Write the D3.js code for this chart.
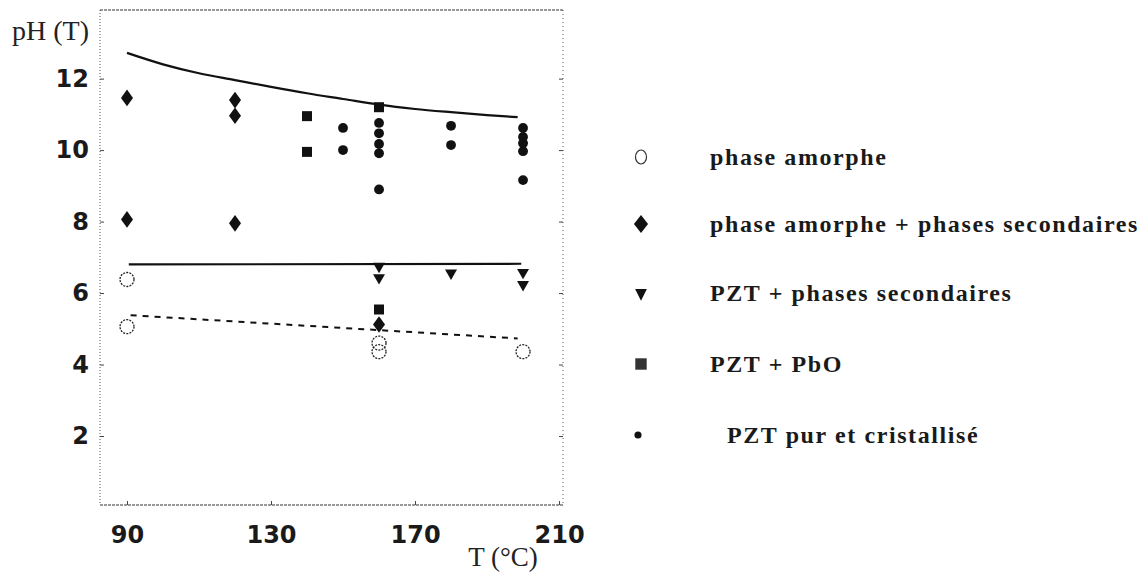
<!DOCTYPE html>
<html>
<head>
<meta charset="utf-8">
<script src="https://cdn.jsdelivr.net/npm/d3@7/dist/d3.min.js"></script>
<style>
  html, body { margin: 0; padding: 0; background: #fff; }
  svg { display: block; }
</style>
</head>
<body>
<svg id="chart" width="1147" height="587"></svg>
<script>
// ---------- data ----------
const xTicks = [90, 130, 170, 210];
const yTicks = [2, 4, 6, 8, 10, 12];

// upper limit curve
const upperT  = [90, 100, 110, 120, 130, 140, 150, 160, 170, 180, 190, 198.5];
const upperPH = [12.72, 12.40, 12.15, 11.96, 11.77, 11.59, 11.43, 11.27, 11.15, 11.06, 10.98, 10.92];
// middle solid line
const midT  = [90.5, 199.5];
const midPH = [6.80, 6.82];
// lower dashed line
const dashT  = [91, 198.5];
const dashPH = [5.38, 4.73];

// points per category: [T, pH]
const amorphe    = [[90, 6.38], [90, 5.06], [160, 4.60], [160, 4.36], [200, 4.36]];
const amorpheSec = [[90, 11.46], [90, 8.06], [120, 11.40], [120, 10.96], [120, 7.95], [160, 5.12]];
const pztSec     = [[160, 6.75], [160, 6.43], [180, 6.56], [200, 6.58], [200, 6.24]];
const pztPbO     = [[140, 10.95], [140, 9.95], [160, 11.20], [160, 5.54]];
const pztPur     = [[150, 10.62], [150, 10.00], [160, 10.76], [160, 10.47], [160, 10.17], [160, 9.91], [160, 8.90],
                    [180, 10.68], [180, 10.14], [200, 10.62], [200, 10.37], [200, 10.19], [200, 9.97], [200, 9.16]];

const legendLabels = ["phase amorphe", "phase amorphe + phases secondaires", "PZT + phases secondaires", "PZT + PbO", "PZT pur et cristallisé"];

// ---------- drawing ----------
const svg = d3.select("#chart");
const x = d3.scaleLinear().domain([82.5, 211.1]).range([100, 563]);
const y = d3.scaleLinear().domain([0.07, 13.92]).range([505, 10]);

// frame
const frame = svg.append("g").attr("fill", "none").attr("stroke", "#555").attr("stroke-width", 1);
frame.append("line").attr("x1", 100).attr("x2", 100).attr("y1", 10).attr("y2", 505).attr("stroke-dasharray", "1,2");
frame.append("line").attr("x1", 100).attr("x2", 563).attr("y1", 10).attr("y2", 10).attr("stroke", "#333").attr("stroke-dasharray", "3,1");
frame.append("line").attr("x1", 563).attr("x2", 563).attr("y1", 10).attr("y2", 505).attr("stroke-dasharray", "1,3");
frame.append("line").attr("x1", 100).attr("x2", 563).attr("y1", 505).attr("y2", 505).attr("stroke", "#333").attr("stroke-dasharray", "3,1");

// axes
const fontTick = "'DejaVu Sans', Verdana, sans-serif";
const gx = svg.append("g").attr("transform", "translate(0,505)")
  .call(d3.axisBottom(x).tickValues(xTicks).tickSize(-4).tickPadding(21));
const gy = svg.append("g").attr("transform", "translate(100,0)")
  .call(d3.axisLeft(y).tickValues(yTicks).tickSize(-4).tickPadding(11));
const gyr = svg.append("g").attr("transform", "translate(563,0)")
  .call(d3.axisRight(y).tickValues(yTicks).tickSize(-4).tickFormat(""));
[gx, gy, gyr].forEach(g => {
  g.select(".domain").remove();
  g.selectAll(".tick line").attr("stroke", "#444");
  g.selectAll("text").attr("font-family", fontTick).attr("font-weight", "bold")
    .attr("font-size", 24).attr("fill", "#1a1a1a");
});

// axis titles
svg.append("text").attr("x", 89).attr("y", 40).attr("text-anchor", "end")
  .attr("font-family", "'Liberation Serif', 'Times New Roman', serif").attr("font-size", 28).attr("fill", "#222")
  .text("pH (T)");
svg.append("text").attr("x", 503).attr("y", 566).attr("text-anchor", "middle")
  .attr("font-family", "'Liberation Serif', 'Times New Roman', serif").attr("font-size", 27).attr("fill", "#222")
  .text("T (°C)");

// lines
const line = d3.line().x(d => x(d[0])).y(d => y(d[1])).curve(d3.curveMonotoneX);
svg.append("path").datum(d3.zip(upperT, upperPH)).attr("d", line)
  .attr("fill", "none").attr("stroke", "#111").attr("stroke-width", 2.2);
svg.append("path").datum(d3.zip(midT, midPH)).attr("d", line)
  .attr("fill", "none").attr("stroke", "#111").attr("stroke-width", 2.2);
svg.append("path").datum(d3.zip(dashT, dashPH)).attr("d", line)
  .attr("fill", "none").attr("stroke", "#111").attr("stroke-width", 2).attr("stroke-dasharray", "6,6");

// markers
const symDiamond = d3.symbol().type(d3.symbolDiamond).size(80)();
const symTri = d3.symbol().type(d3.symbolTriangle).size(62)();
const symSquare = d3.symbol().type(d3.symbolSquare).size(100)();
const symDot = d3.symbol().type(d3.symbolCircle).size(76)();

svg.append("g").selectAll("circle").data(amorphe).join("circle")
  .attr("cx", d => x(d[0])).attr("cy", d => y(d[1])).attr("r", 7)
  .attr("fill", "none").attr("stroke", "#222").attr("stroke-width", 1.3).attr("stroke-dasharray", "2,1.2");
svg.append("g").selectAll("path").data(amorpheSec).join("path")
  .attr("d", symDiamond).attr("fill", "#111")
  .attr("transform", d => `translate(${x(d[0])},${y(d[1])}) scale(1.25,1)`);
svg.append("g").selectAll("path").data(pztSec).join("path")
  .attr("d", symTri).attr("fill", "#111")
  .attr("transform", d => `translate(${x(d[0])},${y(d[1])}) rotate(180)`);
svg.append("g").selectAll("path").data(pztPbO).join("path")
  .attr("d", symSquare).attr("fill", "#111")
  .attr("transform", d => `translate(${x(d[0])},${y(d[1])})`);
svg.append("g").selectAll("path").data(pztPur).join("path")
  .attr("d", symDot).attr("fill", "#111")
  .attr("transform", d => `translate(${x(d[0])},${y(d[1])})`);

// legend
const legY = [157, 224, 293, 364, 435];
const legTextX = [710, 710, 710, 710, 727];
const leg = svg.append("g");
leg.append("ellipse").attr("cx", 641).attr("cy", legY[0]).attr("rx", 5.5).attr("ry", 7)
  .attr("fill", "none").attr("stroke", "#333").attr("stroke-width", 1.2);
leg.append("path").attr("d", d3.symbol().type(d3.symbolDiamond).size(95)())
  .attr("fill", "#111").attr("transform", `translate(641,${legY[1]}) scale(1.35,1)`);
leg.append("path").attr("d", d3.symbol().type(d3.symbolTriangle).size(60)())
  .attr("fill", "#111").attr("transform", `translate(641,${legY[2]}) rotate(180) scale(1,1.15)`);
leg.append("path").attr("d", d3.symbol().type(d3.symbolSquare).size(130)())
  .attr("fill", "#333").attr("transform", `translate(641,${legY[3]})`);
leg.append("path").attr("d", d3.symbol().type(d3.symbolCircle).size(40)())
  .attr("fill", "#111").attr("transform", `translate(638,${legY[4]})`);
leg.selectAll("text").data(legendLabels).join("text")
  .attr("x", (d, i) => legTextX[i]).attr("y", (d, i) => legY[i]).attr("dy", "0.35em")
  .attr("font-family", "'Liberation Serif', 'Times New Roman', serif").attr("font-weight", "bold")
  .attr("font-size", 24).attr("letter-spacing", 1.6).attr("fill", "#1a1a1a")
  .text(d => d);
</script>
</body>
</html>
